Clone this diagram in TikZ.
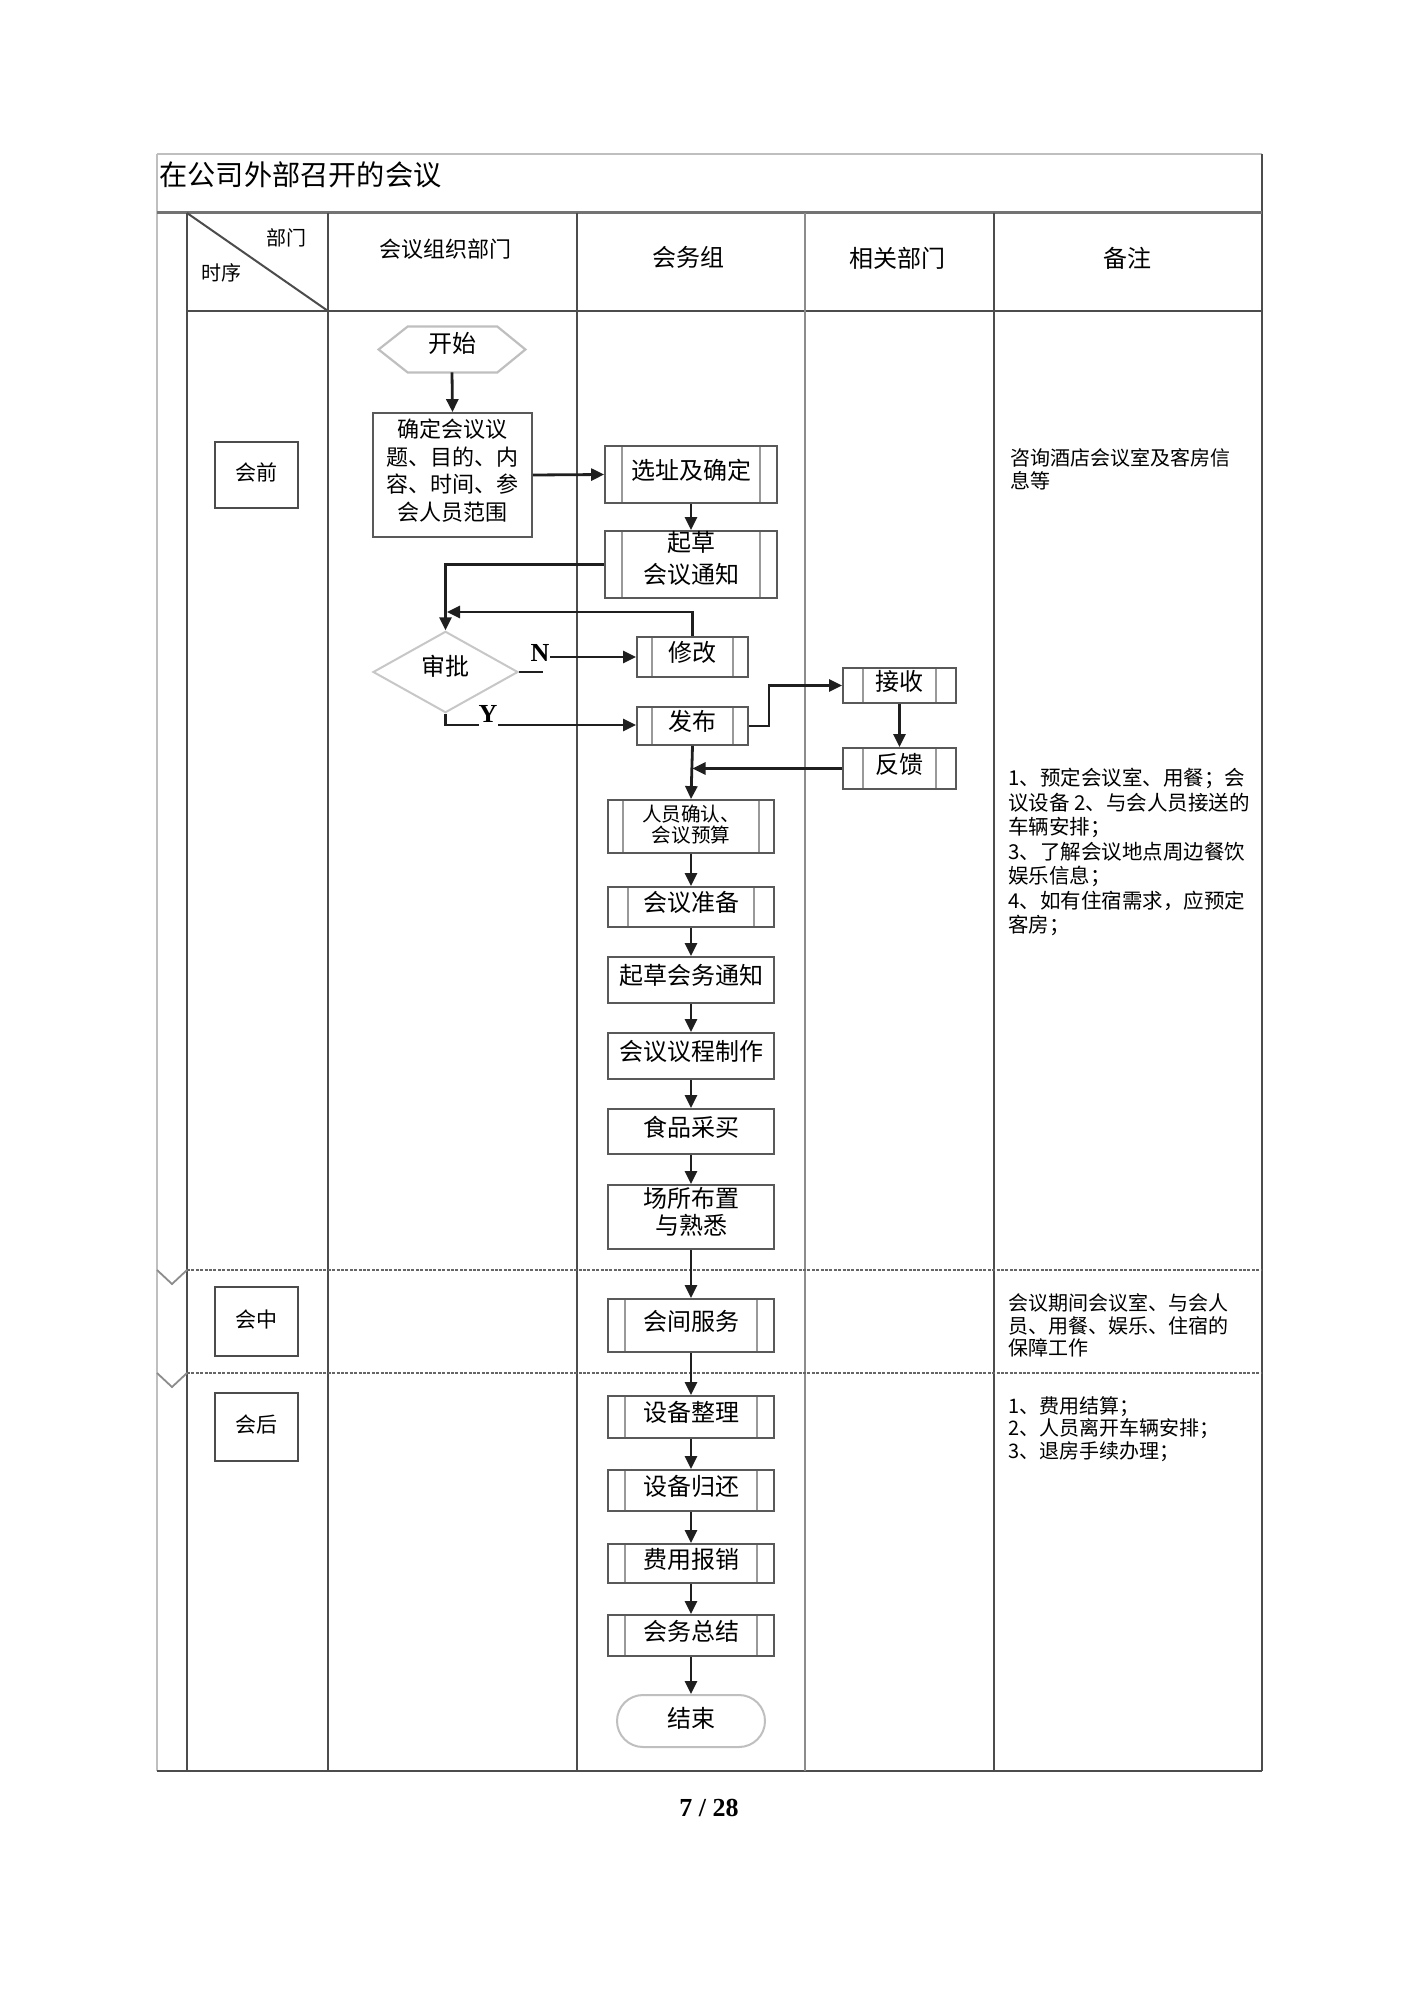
\documentclass[tikz,border=0pt]{standalone}
\usepackage{fontspec}
\newfontfamily\cjk{Noto Sans CJK SC}
\newfontfamily\pgnum{Liberation Serif}
\usetikzlibrary{arrows.meta,calc,shapes.geometric}
\begin{document}
\begin{tikzpicture}[x=0.5pt,y=-0.5pt,
  arr/.style={-{Triangle[length=6.5pt,width=6pt]}, line width=1.4pt, draw=black!88},
  ln/.style={line width=1.4pt, draw=black!88},
  tbl/.style={line width=1pt, draw=black!70},
  light/.style={line width=0.9pt, draw=black!25},
  dotl/.style={line width=1.2pt, draw=black!60, dash pattern=on 1.5pt off 0.7pt},
  plain/.style={draw=black!65, line width=0.9pt, inner sep=0pt, align=center,
     font=\cjk\fontsize{12}{14}\selectfont, text depth=5.5pt},
  pbox/.style={plain, path picture={\draw[black!40,line width=0.7pt]
     ([xshift=#1]path picture bounding box.north west) -- ([xshift=#1]path picture bounding box.south west)
     ([xshift=-#1]path picture bounding box.north east) -- ([xshift=-#1]path picture bounding box.south east);}},
  pbox/.default=8.5pt,
  phase/.style={draw=black!70, line width=0.9pt, inner sep=0pt, minimum width=41.5pt,
     font=\cjk\fontsize{10.5}{12}\selectfont, text depth=3pt},
  head/.style={inner sep=0pt, font=\cjk\fontsize{12}{14}\selectfont},
  note/.style={inner sep=0pt, anchor=west, align=left, text depth=0pt},
  yn/.style={inner sep=0pt, font=\pgnum\bfseries\fontsize{13}{15}\selectfont}
]
\fill[white] (0,0) rectangle (1411,1995);
\useasboundingbox (0,0) rectangle (1411,1995);

% ---------- table ----------
\draw[light] (157,154) -- (1262,154);
\draw[light] (157,154) -- (157,1771);
\draw[tbl] (1262,154) -- (1262,1771);
\draw[line width=1.5pt, draw=black!55] (157,213) -- (1262,213);
\draw[tbl] (187,311) -- (1262,311);
\draw[tbl] (157,1771) -- (1262,1771);
\draw[tbl] (187,213) -- (187,1771);
\draw[tbl] (328,213) -- (328,1771);
\draw[tbl] (577,213) -- (577,1771);
\draw[line width=0.9pt, draw=black!45] (805,213) -- (805,1771);
\draw[tbl] (994,213) -- (994,1771);
\draw[tbl] (187,213) -- (328,311);
\draw[dotl] (187,1270) -- (1262,1270);
\draw[dotl] (187,1373) -- (1262,1373);
\draw[line width=0.9pt, draw=black!45] (157,1270) -- (172,1284) -- (187,1270);
\draw[line width=0.9pt, draw=black!45] (157,1373) -- (172,1387) -- (187,1373);

% ---------- title and headers ----------
\node[inner sep=0pt, anchor=west, font=\cjk\fontsize{14.1}{16}\selectfont] (title) at (159,175) {在公司外部召开的会议};
\node[inner sep=0pt, font=\cjk\fontsize{10}{12}\selectfont] (hbm) at (286,238) {部门};
\node[inner sep=0pt, font=\cjk\fontsize{10}{12}\selectfont] (hsx) at (221,273) {时序};
\node[inner sep=0pt, font=\cjk\fontsize{11}{13}\selectfont] (h1) at (445,249) {会议组织部门};
\node[head] (h2) at (688,257) {会务组};
\node[head] (h3) at (897,258) {相关部门};
\node[head] (h4) at (1127,258) {备注};

% ---------- phases ----------
\node[phase, minimum height=33pt] (hq) at (256.5,475) {会前};
\node[phase, minimum height=34.5pt] (hz) at (256.5,1321.5) {会中};
\node[phase, minimum height=34pt] (hh) at (256.5,1427) {会后};

% ---------- flow nodes ----------
\node[inner sep=0pt, minimum width=73pt, minimum height=22.5pt, text depth=7.3pt,
      font=\cjk\fontsize{12}{14}\selectfont] (start) at (452,349.5) {开始};
\draw[light, line width=1.1pt] (start.west) -- ($(start.north west)+(29,0)$) -- ($(start.north east)+(-28,0)$)
   -- (start.east) -- ($(start.south east)+(-28,0)$) -- ($(start.south west)+(29,0)$) -- cycle;

\node[plain, minimum width=79.5pt, minimum height=62pt, font=\cjk\fontsize{11}{13.8}\selectfont,
      text depth=5.3pt] (def) at (452.5,475) {确定会议议\\题、目的、内\\容、时间、参\\会人员范围};
\node[pbox, minimum width=86pt, minimum height=28.5pt] (xz) at (691,474.5) {选址及确定};
\node[pbox, minimum width=86pt, minimum height=32.5pt, font=\cjk\fontsize{12}{16}\selectfont,
      text depth=7.5pt] (qc) at (691,564.5) {起草\\会议通知};
\node[diamond, draw=black!22, line width=1pt, inner sep=0pt, minimum width=72.5pt, minimum height=34pt,
      font=\cjk\fontsize{12}{14}\selectfont, text depth=6.5pt] (sp) at (445.5,672) {审批};
\node[pbox=7.5pt, minimum width=55.5pt, minimum height=20pt] (xg) at (692.5,657) {修改};
\node[pbox=7.5pt, minimum width=55.5pt, minimum height=19pt] (fb) at (692.5,726) {发布};
\node[pbox=10pt, minimum width=56.5pt, minimum height=17.5pt] (js) at (899.5,685.5) {接收};
\node[pbox=10pt, minimum width=56.5pt, minimum height=20.5pt] (fk) at (899.5,768.5) {反馈};
\node[pbox=7.5pt, minimum width=83pt, minimum height=26.5pt, font=\cjk\fontsize{9.8}{10.5}\selectfont,
      text depth=2.5pt] (ry) at (691,826.5) {人员确认、\\会议预算};
\node[pbox=10pt, minimum width=83pt, minimum height=20pt] (zb) at (691,907) {会议准备};
\node[plain, minimum width=83pt, minimum height=23pt] (ngt) at (691,980) {起草会务通知};
\node[plain, minimum width=83pt, minimum height=23pt] (yc) at (691,1056) {会议议程制作};
\node[plain, minimum width=83pt, minimum height=22.5pt] (sp1) at (691,1131.5) {食品采买};
\node[plain, minimum width=83pt, minimum height=32pt, font=\cjk\fontsize{12}{13.5}\selectfont,
      text depth=6pt] (cs) at (691,1217) {场所布置\\与熟悉};
\node[pbox, minimum width=83pt, minimum height=26.5pt] (hj) at (691,1325.5) {会间服务};
\node[pbox, minimum width=83pt, minimum height=21pt] (zl) at (691,1417) {设备整理};
\node[pbox, minimum width=83pt, minimum height=20.5pt] (gh) at (691,1490.5) {设备归还};
\node[pbox, minimum width=83pt, minimum height=19.5pt] (bx) at (691,1563.5) {费用报销};
\node[pbox, minimum width=83pt, minimum height=20.5pt] (zj) at (691,1635.5) {会务总结};
\node[draw=black!25, line width=1pt, rounded corners=13pt, inner sep=0pt, minimum width=74pt,
      minimum height=26pt, font=\cjk\fontsize{12}{14}\selectfont, text depth=3.8pt] (end) at (691,1721) {结束};

% labels N / Y
\node[yn] (nlab) at (540,653) {N};
\node[yn] (ylab) at (488,714) {Y};
\coordinate (ret) at (447,612);
\coordinate (ya) at (479,725);
\coordinate (yb) at (498,725);

% ---------- connectors ----------
\draw[arr] (start.south) -- (def.north);
\draw[arr] (def.east) -- (xz.west);
\draw[arr] (xz.south) -- (qc.north);
\draw[arr] (qc.west) -| (sp.north);
\draw[arr] (xg.north) |- (ret);
\draw[ln] (sp.east) -- ++(24,0);
\draw[arr] (nlab.east |- xg.west) -- (xg.west);
\draw[ln] (sp.south) |- (ya);
\draw[arr] (yb) -- (yb -| fb.west);
\draw[arr] (fb.east) -- ++(20,0) |- (js.west);
\draw[arr] (js.south) -- (fk.north);
\draw[arr] (fk.west) -- (fk.west -| fb.south);
\draw[arr] (fb.south) -- (ry.north);
\draw[arr] (ry.south) -- (zb.north);
\draw[arr] (zb.south) -- (ngt.north);
\draw[arr] (ngt.south) -- (yc.north);
\draw[arr] (yc.south) -- (sp1.north);
\draw[arr] (sp1.south) -- (cs.north);
\draw[arr] (cs.south) -- (hj.north);
\draw[arr] (hj.south) -- (zl.north);
\draw[arr] (zl.south) -- (gh.north);
\draw[arr] (gh.south) -- (bx.north);
\draw[arr] (bx.south) -- (zj.north);
\draw[arr] (zj.south) -- (end.north);

% ---------- notes ----------
\node[note, font=\cjk\fontsize{10}{11.5}\selectfont] (n1) at (1010,468.5) {咨询酒店会议室及客房信\\息等};
\node[note, font=\cjk\fontsize{10.25}{12.25}\selectfont] (n2) at (1008,850.5)
  {1、预定会议室、用餐；会\\议设备 2、与会人员接送的\\车辆安排；\\3、了解会议地点周边餐饮\\娱乐信息；\\4、如有住宿需求，应预定\\客房；};
\node[note, font=\cjk\fontsize{10}{11.25}\selectfont] (n3) at (1008,1324.5)
  {会议期间会议室、与会人\\员、用餐、娱乐、住宿的\\保障工作};
\node[note, font=\cjk\fontsize{10}{11.25}\selectfont] (n4) at (1008,1427.5)
  {1、费用结算；\\2、人员离开车辆安排；\\3、退房手续办理；};

% page number
\node[inner sep=0pt, font=\pgnum\bfseries\fontsize{13}{15}\selectfont] (pg) at (709,1808) {7 / 28};
\end{tikzpicture}
\end{document}
